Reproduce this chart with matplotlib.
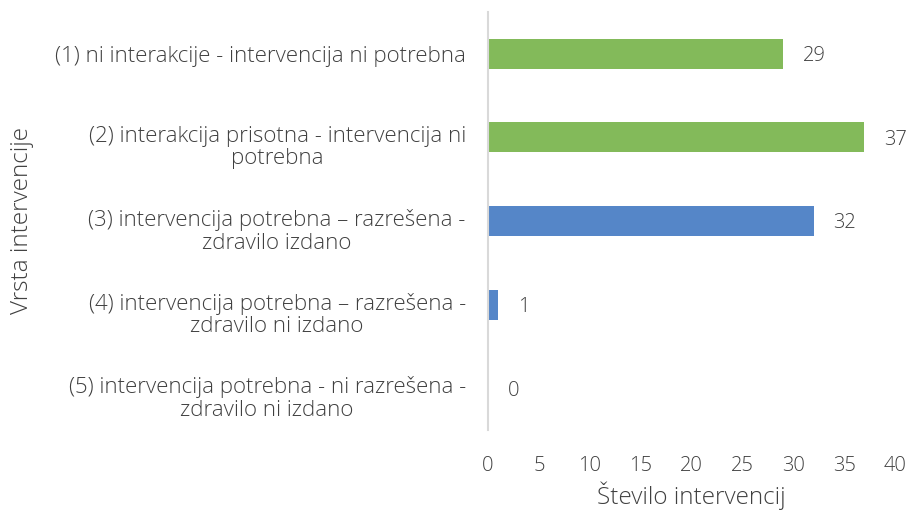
import matplotlib.pyplot as plt
import matplotlib.transforms as mtransforms
import numpy as np

plt.rcParams['font.family'] = ['Open Sans', 'DejaVu Sans']

kategorije = ['(1) ni interakcije - intervencija ni potrebna',
              '(2) interakcija prisotna - intervencija ni\npotrebna',
              '(3) intervencija potrebna \u2013 razrešena -\nzdravilo izdano',
              '(4) intervencija potrebna \u2013 razrešena -\nzdravilo ni izdano',
              '(5) intervencija potrebna - ni razrešena -\nzdravilo ni izdano']
vrednosti = [29, 37, 32, 1, 0]
barve = ['#83BA5A', '#83BA5A', '#5586C8', '#5586C8', '#5586C8']
x_ticks = [0, 5, 10, 15, 20, 25, 30, 35, 40]

fig = plt.figure(figsize=(9.08, 5.12), dpi=100)
ax = fig.add_axes([488/908, 1-430/512, (895-488)/908, (430-12)/512])

y = np.arange(len(kategorije))
ax.barh(y, vrednosti, height=0.36, color=barve)
ax.set_ylim(len(kategorije)-0.5, -0.5)
ax.set_xlim(0, 40)

tc = '#404040'
for yi, v in zip(y, vrednosti):
    ax.annotate(str(v), (v, yi), xytext=(14, 0), textcoords='offset points',
                va='center_baseline', ha='left', fontsize=14.5, color=tc, fontweight='light')

ax.set_yticks(y)
ax.set_yticklabels(kategorije, fontsize=16, color=tc, ha='right', multialignment='center',
                   fontweight='light', linespacing=1.1)
ax.tick_params(axis='y', length=0, pad=16)
# dvovrsticne oznake so v originalu malo nizje
premik = mtransforms.ScaledTranslation(0, -5/72, fig.dpi_scale_trans)
for lab in ax.get_yticklabels():
    if '\n' in lab.get_text():
        lab.set_transform(lab.get_transform() + premik)

ax.set_xticks(x_ticks)
ax.set_xticklabels([str(t) for t in x_ticks], fontsize=14.5, color=tc, fontweight='light')
ax.tick_params(axis='x', length=0, pad=19)

for s in ['top', 'right', 'bottom']:
    ax.spines[s].set_visible(False)
ax.spines['left'].set_color('#D9D9D9')
ax.spines['left'].set_linewidth(1.5)

ax.set_xlabel('Število intervencij', fontsize=17.5, color=tc, fontweight='light', labelpad=3.5)
fig.text(22/908, 1-221/512, 'Vrsta intervencije', rotation=90, fontsize=17.5, color=tc,
         fontweight='light', ha='center', va='center')

fig.savefig('out.png', dpi=100)
